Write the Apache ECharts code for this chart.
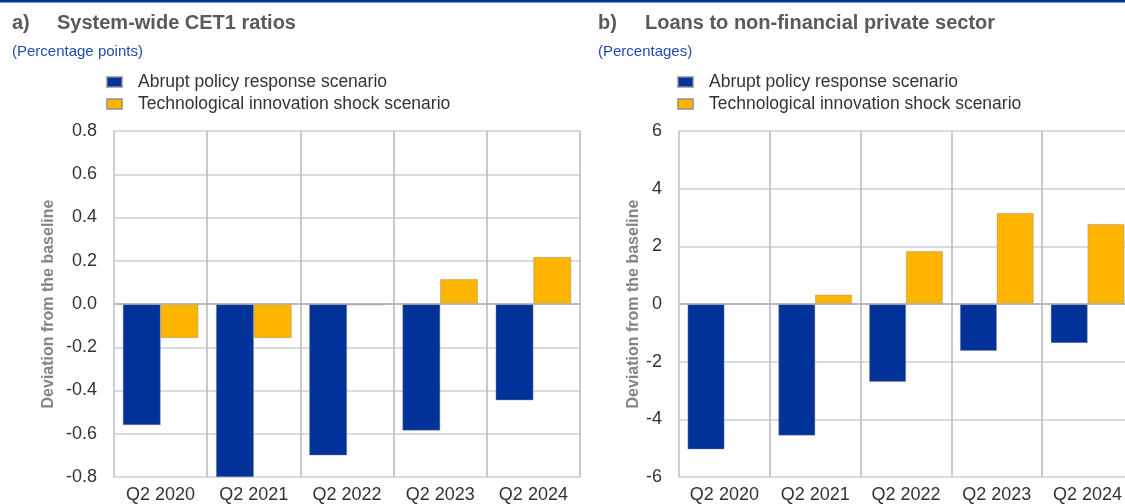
<!DOCTYPE html>
<html>
<head>
<meta charset="utf-8">
<script src="https://cdn.jsdelivr.net/npm/echarts@6/dist/echarts.min.js"></script>
<style>
  html, body { margin: 0; padding: 0; background: #fff; overflow: hidden; }
  /* the right panel runs past the picture edge, as in the source */
  #chart { width: 1134px; height: 504px; }
</style>
</head>
<body>
<div id="chart"></div>
<script>
// data
const categories = ['Q2 2020', 'Q2 2021', 'Q2 2022', 'Q2 2023', 'Q2 2024']
const seriesNames = ['Abrupt policy response scenario', 'Technological innovation shock scenario']
const cet1Abrupt = [-0.56, -0.80, -0.70, -0.585, -0.445]
const cet1Tech = [-0.157, -0.157, -0.006, 0.115, 0.217]
const loansAbrupt = [-5.04, -4.56, -2.70, -1.62, -1.35]
const loansTech = [0, 0.32, 1.83, 3.15, 2.77]

const BLUE = '#003299'
const YELLOW = '#FFB400'
const font = 'Liberation Sans, Arial, sans-serif'

const chart = echarts.init(document.getElementById('chart'))

function titleFor(left, offset, letter, text, unit) {
  const head = { fontFamily: font, fontSize: 20, fontWeight: 'bold', color: '#5a5a5a' }
  return [
    { left: left, top: 13, padding: 0, text: letter, textStyle: head },
    { left: left + offset, top: 13, padding: 0, text: text, textStyle: head },
    { left: left, top: 44, padding: 0, text: unit, textStyle: { fontFamily: font, fontSize: 15, fontWeight: 'normal', color: '#1f4db0' } }
  ]
}

function legendFor(left) {
  return {
    left: left, top: 73, padding: 0, orient: 'vertical', icon: 'rect',
    itemWidth: 15, itemHeight: 10, itemGap: 4,
    data: seriesNames, selectedMode: false,
    textStyle: { fontFamily: font, fontSize: 17.5, color: '#333', lineHeight: 16, padding: [0, 0, 0, 11] }
  }
}

function xAxisFor(idx) {
  return {
    type: 'category', gridIndex: idx, data: categories,
    axisLine: { show: false }, axisTick: { show: false },
    splitLine: { show: true, interval: 0, lineStyle: { color: '#b9b9b9', width: 1.5 } },
    axisLabel: { interval: 0, fontFamily: font, fontSize: 18, color: '#333', margin: 9 }
  }
}

function yAxisFor(idx, min, max, step, digits, gap) {
  return {
    type: 'value', gridIndex: idx, min: min, max: max, interval: step,
    name: 'Deviation from the baseline', nameLocation: 'middle', nameGap: gap, nameRotate: 90,
    nameTextStyle: { fontFamily: font, fontSize: 16, fontWeight: 'bold', color: '#858585' },
    axisLine: { show: true, lineStyle: { color: '#cdd2da', width: 1.5 } },
    axisTick: { show: false },
    splitLine: { lineStyle: { color: '#cdd2da', width: 1.5 } },
    axisLabel: { fontFamily: font, fontSize: 18, color: '#333', margin: 17, formatter: v => v.toFixed(digits) }
  }
}

function barsFor(idx, values, color, name, zeroLine) {
  const s = {
    type: 'bar', name: name, xAxisIndex: idx, yAxisIndex: idx, data: values,
    barGap: '0%', barCategoryGap: '19%',
    itemStyle: { color: color, borderColor: 'rgba(140,140,140,0.7)', borderWidth: 0.6 }
  }
  if (zeroLine) {
    s.markLine = {
      silent: true, symbol: 'none', label: { show: false },
      lineStyle: { color: '#b0b0b0', width: 1.5, type: 'solid' },
      data: [{ yAxis: 0 }]
    }
  }
  return s
}

chart.setOption({
  animation: false,
  title: [].concat(
    titleFor(12, 45, 'a)', 'System-wide CET1 ratios', '(Percentage points)'),
    titleFor(598, 47, 'b)', 'Loans to non-financial private sector', '(Percentages)')
  ),
  legend: [legendFor(106), legendFor(677)],
  graphic: [{ type: 'rect', left: 0, top: 0, shape: { width: 1134, height: 2.5 }, style: { fill: BLUE } }],
  grid: [
    { left: 114, top: 131, width: 466, height: 347 },
    { left: 679, top: 131, width: 454, height: 347 }
  ],
  xAxis: [xAxisFor(0), xAxisFor(1)],
  yAxis: [yAxisFor(0, -0.8, 0.8, 0.2, 1, 57), yAxisFor(1, -6, 6, 2, 0, 37)],
  series: [
    barsFor(0, cet1Abrupt, BLUE, seriesNames[0], true),
    barsFor(0, cet1Tech, YELLOW, seriesNames[1], false),
    barsFor(1, loansAbrupt, BLUE, seriesNames[0], true),
    barsFor(1, loansTech, YELLOW, seriesNames[1], false)
  ]
})
</script>
</body>
</html>
